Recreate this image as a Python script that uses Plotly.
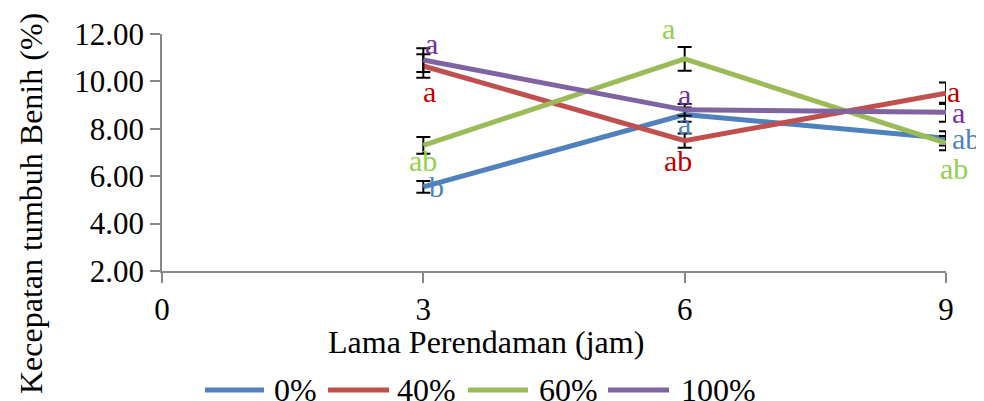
import plotly.graph_objects as go

x_hours = [3, 6, 9]
series_names = ["0%", "40%", "60%", "100%"]
val_0 = [5.55, 8.6, 7.6]
val_40 = [10.65, 7.5, 9.5]
val_60 = [7.3, 10.95, 7.4]
val_100 = [10.9, 8.8, 8.7]
err_0 = [0.25, 0.3, 0.3]
err_40 = [0.5, 0.3, 0.45]
err_60 = [0.35, 0.5, 0.3]
err_100 = [0.5, 0.25, 0.4]
lab_0 = ["b", "a", "ab"]
lab_40 = ["a", "ab", "a"]
lab_60 = ["ab", "a", "ab"]
lab_100 = ["a", "a", "a"]
y_ticks = [2, 4, 6, 8, 10, 12]
x_ticks = [0, 3, 6, 9]
x_title = "Lama Perendaman (jam)"
y_title = "Kecepatan tumbuh Benih (%)"

values = [val_0, val_40, val_60, val_100]
errors = [err_0, err_40, err_60, err_100]
labels = [lab_0, lab_40, lab_60, lab_100]
line_colors = ["#4F81BD", "#C0504D", "#9BBB59", "#8064A2"]
text_colors = ["#4F81BD", "#C00000", "#92D050", "#7030A0"]
# pixel offsets of the letter labels (xshift, yshift)
shifts = [
    [(13, 0), (0, -9), (20, 0)],
    [(6, -26), (-7, -20), (7, 2)],
    [(0, -15), (-16, 30), (8, -25)],
    [(8, 17), (0, 15), (12, 0)],
]

# page body has an 8px margin; figure is sized to fill the rest of the window
O = 8
W, H = 984 - O, 401 - O
L, R, T, B = 162 - O, 38, 34 - O, 130
PW, PH = W - L - R, H - T - B


def px(xp):
    return (xp - O - L) / PW


def py(yp):
    return (H - B - (yp - O)) / PH


FONT = "Liberation Serif, Times New Roman, serif"
fig = go.Figure()
for name, v, e, c in zip(series_names, values, errors, line_colors):
    fig.add_trace(go.Scatter(
        x=x_hours, y=v, name=name, mode="lines",
        line=dict(color=c, width=5),
        error_y=dict(type="data", array=e, color="black", thickness=2, width=7),
        showlegend=False,
    ))

for v, labs, tc, sh in zip(values, labels, text_colors, shifts):
    for xi, yi, t, (dx, dy) in zip(x_hours, v, labs, sh):
        fig.add_annotation(x=xi, y=yi, text=t, showarrow=False,
                           xshift=dx, yshift=dy,
                           font=dict(family=FONT, size=30, color=tc))

# axis titles
fig.add_annotation(xref="paper", yref="paper", x=px(486), y=py(342), text=x_title,
                   showarrow=False, xanchor="center", yanchor="middle",
                   font=dict(family=FONT, size=32, color="black"))
fig.add_annotation(xref="paper", yref="paper", x=px(31), y=py(204), text=y_title,
                   showarrow=False, xanchor="center", yanchor="middle", textangle=-90,
                   font=dict(family=FONT, size=32, color="black"))

# legend (drawn manually to match long legend lines)
leg_items = [(205, 264, 272), (328, 389, 395), (468, 528, 537), (608, 669, 679)]
for (x0, x1, xt), name, c in zip(leg_items, series_names, line_colors):
    fig.add_shape(type="line", xref="paper", yref="paper", x0=px(x0), x1=px(x1),
                  y0=py(390), y1=py(390), line=dict(color=c, width=5))
    fig.add_annotation(xref="paper", yref="paper", x=px(xt), y=py(390), text=name,
                       showarrow=False, xanchor="left", yanchor="middle",
                       font=dict(family=FONT, size=32, color="black"))

fig.update_layout(
    width=W, height=H,
    margin=dict(l=L, r=R, t=T, b=B),
    plot_bgcolor="white", paper_bgcolor="white",
    font=dict(family=FONT, size=31, color="black"),
    showlegend=False,
)
fig.update_xaxes(range=[0, 9], tickvals=x_ticks, showline=True, linecolor="#868686",
                 linewidth=1.5, ticks="outside", ticklen=10, tickcolor="#868686",
                 tickwidth=1.5, showgrid=False, zeroline=False, automargin=False,
                 tickfont=dict(family=FONT, size=31))
fig.update_yaxes(range=[2, 12], tickvals=y_ticks, tickformat=".2f", showline=True,
                 linecolor="#868686", linewidth=1.5, ticks="outside", ticklen=10,
                 tickwidth=1.5, tickcolor="#868686", showgrid=False, zeroline=False,
                 automargin=False, tickfont=dict(family=FONT, size=31))
fig.write_html("out.html")
